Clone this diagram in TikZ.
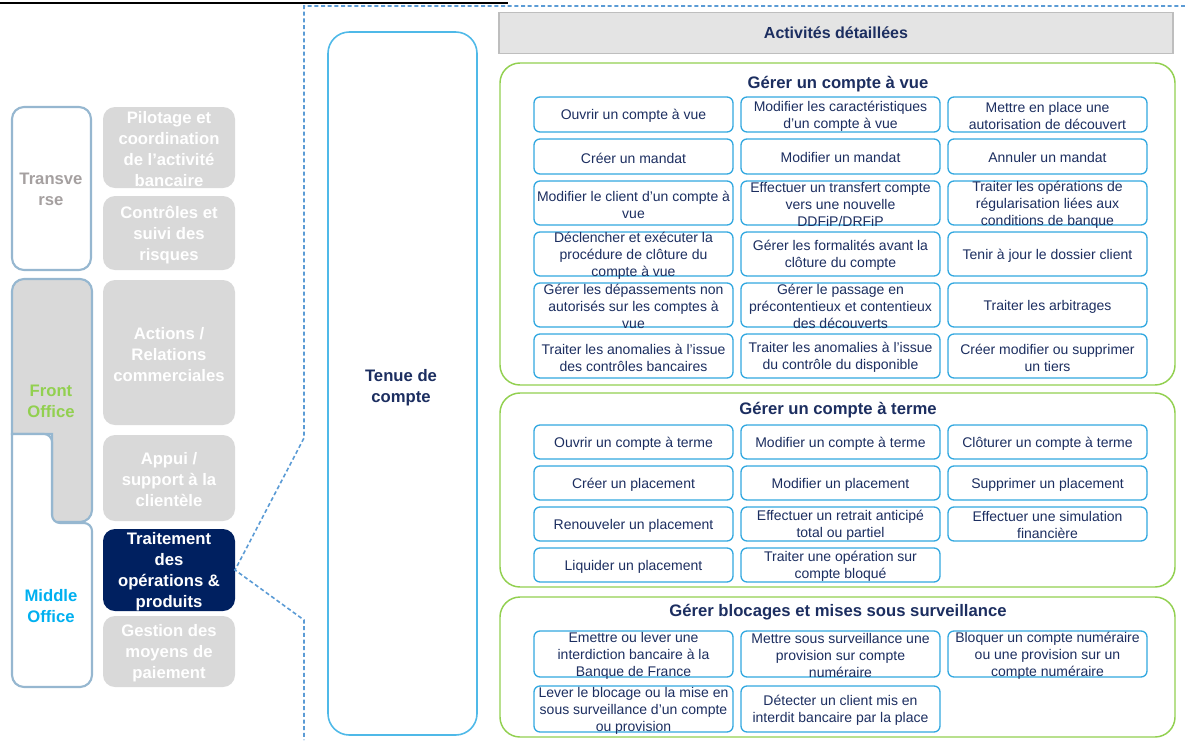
\documentclass[tikz,border=0pt]{standalone}
\usepackage{fontspec}
\setmainfont{Liberation Sans}
\usepackage{xcolor}
\usepackage{tikz}
\usetikzlibrary{positioning}
\definecolor{navy}{RGB}{28,46,96}
\definecolor{darknavy}{RGB}{0,32,96}
\definecolor{boxgray}{RGB}{217,217,217}
\definecolor{lobeblue}{RGB}{150,183,208}
\definecolor{tenueblue}{RGB}{79,185,232}
\definecolor{actblue}{RGB}{50,168,224}
\definecolor{grpgreen}{RGB}{146,208,80}
\definecolor{dashblue}{RGB}{91,155,213}
\definecolor{headgray}{RGB}{228,228,228}
\definecolor{headline}{RGB}{190,190,190}
\definecolor{midcyan}{RGB}{0,176,240}
\definecolor{transgray}{RGB}{165,160,160}
\newcommand{\cel}[1]{\smash{\makebox[0pt]{\raisebox{\dimexpr-0.25em-1.2pt\relax}{\parbox[c]{170pt}{\centering #1}}}}}

\begin{document}
\begin{tikzpicture}[x=0.75pt,y=-0.75pt,
    act/.style={draw=actblue,line width=1pt,rounded corners=4.5pt,fill=white,
                minimum width=149.25pt,inner sep=0pt,outer sep=0pt,text=navy,
                font=\fontsize{10.5}{12.75}\selectfont},
    blk/.style={fill=boxgray,rounded corners=9pt,minimum width=99pt,
                inner sep=0pt,outer sep=0pt,text=white,
                font=\fontsize{12.5}{15.75}\selectfont\bfseries},
    lobe/.style={draw=lobeblue,line width=1.6pt},
    grp/.style={draw=grpgreen,line width=1.1pt,rounded corners=15pt},
    gtitle/.style={text=navy,font=\fontsize{12.5}{15}\selectfont\bfseries},
    lbl/.style={align=center,font=\fontsize{12.5}{15.75}\selectfont\bfseries},
    cut/.style={draw=dashblue,line width=1.2pt,dash pattern=on 3pt off 2pt}]
\useasboundingbox (0,0) rectangle (1185,740);
\draw[line width=1.2pt] (0,3) -- (508,3);

\draw[lobe,rounded corners=9pt,fill=white] (12,107) rectangle (91,270);
\draw[lobe,fill=boxgray] (52,434) -- (12,434) [rounded corners=9pt] -- (12,279)
      -- (92,279) -- (92,522) [sharp corners] -- (52,522) -- cycle;
\draw[lobe,fill=white] (12,434) [rounded corners=6pt] -- (52,434) -- (52,523)
      -- (92,523) [rounded corners=9pt] -- (92,687) -- (12,687) [sharp corners] -- cycle;
\node[lbl,text=transgray] (trans) at (51,189.5) {Transve\\rse};
\node[lbl,text=grpgreen] (front) at (51,401.5) {Front\\Office};
\node[lbl,text=midcyan] (middle) at (51,606.5) {Middle\\Office};

\node[blk,minimum height=60.75pt] (pilot) at (169,147.5)
     {\cel{Pilotage et\\coordination\\de l'activité\\bancaire}};
\node[blk,minimum height=55.5pt,below=6pt of pilot] (contr)
     {\cel{Contrôles et\\suivi des\\risques}};
\node[blk,minimum height=108.75pt,below=7.5pt of contr] (actions)
     {\cel{Actions /\\Relations\\commerciales}};
\node[blk,minimum height=64.5pt,below=7.5pt of actions] (appui)
     {\cel{Appui /\\support à la\\clientèle}};
\node[blk,fill=darknavy,minimum height=61.5pt,below=6pt of appui] (trait)
     {\cel{Traitement\\des\\opérations \&\\produits}};
\node[blk,minimum height=53.25pt,below=3.75pt of trait] (gest)
     {\cel{Gestion des\\moyens de\\paiement}};

\coordinate (d0) at (1185,6);
\coordinate (d1) at (304,6);
\coordinate (d2) at (304,438);
\coordinate (d3) at (304,620);
\coordinate (d4) at (304,740);
\draw[cut] (d0) -- (d1) -- (d2) -- (trait.east) -- (d3) -- (d4);

\draw[draw=tenueblue,line width=1.2pt,rounded corners=16pt] (328,32) rectangle (477,735);
\node[lbl,text=navy] (tenue) at (401,388) {Tenue de\\compte};

\node[fill=headgray,draw=headline,line width=1pt,minimum width=505.5pt,
      minimum height=30.75pt,text=navy,font=\fontsize{12}{14}\selectfont\bfseries]
      (actdet) at (836,33) {Activités détaillées};

\draw[grp] (500,63) rectangle (1175,385);
\node[gtitle] (tvue) at (838,84.5) {Gérer un compte à vue};
\node[act,minimum height=26.25pt] (v11) at (633.5,114.5) {\cel{Ouvrir un compte à vue}};
\node[act,minimum height=26.25pt,right=6pt of v11] (v12) {\cel{Modifier les caractéristiques\\d'un compte à vue}};
\node[act,minimum height=26.25pt,right=6pt of v12] (v13) {\cel{Mettre en place une\\autorisation de découvert}};
\node[act,minimum height=26.25pt,below=5.25pt of v11] (v21) {\cel{Créer un mandat}};
\node[act,minimum height=26.25pt,right=6pt of v21] (v22) {\cel{Modifier un mandat}};
\node[act,minimum height=26.25pt,right=6pt of v22] (v23) {\cel{Annuler un mandat}};
\node[act,minimum height=33pt,below=5.25pt of v21] (v31) {\cel{Modifier le client d'un compte à\\vue}};
\node[act,minimum height=33pt,right=6pt of v31] (v32) {\cel{Effectuer un transfert compte\\vers une nouvelle\\DDFiP/DRFiP}};
\node[act,minimum height=33pt,right=6pt of v32] (v33) {\cel{Traiter les opérations de\\régularisation liées aux\\conditions de banque}};
\node[act,minimum height=33pt,below=5.25pt of v31] (v41) {\cel{Déclencher et exécuter la\\procédure de clôture du\\compte à vue}};
\node[act,minimum height=33pt,right=6pt of v41] (v42) {\cel{Gérer les formalités avant la\\clôture du compte}};
\node[act,minimum height=33pt,right=6pt of v42] (v43) {\cel{Tenir à jour le dossier client}};
\node[act,minimum height=33pt,below=5.25pt of v41] (v51) {\cel{Gérer les dépassements non\\autorisés sur les comptes à\\vue}};
\node[act,minimum height=33pt,right=6pt of v51] (v52) {\cel{Gérer le passage en\\précontentieux et contentieux\\des découverts}};
\node[act,minimum height=33pt,right=6pt of v52] (v53) {\cel{Traiter les arbitrages}};
\node[act,minimum height=33pt,below=5.25pt of v51] (v61) {\cel{Traiter les anomalies à l'issue\\des contrôles bancaires}};
\node[act,minimum height=33pt,right=6pt of v61] (v62) {\cel{Traiter les anomalies à l'issue\\du contrôle du disponible}};
\node[act,minimum height=33pt,right=6pt of v62] (v63) {\cel{Créer modifier ou supprimer\\un tiers}};

\draw[grp] (500,393) rectangle (1175,587);
\node[gtitle] (tterme) at (838,410.5) {Gérer un compte à terme};
\node[act,minimum height=25.5pt] (t11) at (633.5,442) {\cel{Ouvrir un compte à terme}};
\node[act,minimum height=25.5pt,right=6pt of t11] (t12) {\cel{Modifier un compte à terme}};
\node[act,minimum height=25.5pt,right=6pt of t12] (t13) {\cel{Clôturer un compte à terme}};
\node[act,minimum height=25.5pt,below=5.25pt of t11] (t21) {\cel{Créer un placement}};
\node[act,minimum height=25.5pt,right=6pt of t21] (t22) {\cel{Modifier un placement}};
\node[act,minimum height=25.5pt,right=6pt of t22] (t23) {\cel{Supprimer un placement}};
\node[act,minimum height=25.5pt,below=5.25pt of t21] (t31) {\cel{Renouveler un placement}};
\node[act,minimum height=25.5pt,right=6pt of t31] (t32) {\cel{Effectuer un retrait anticipé\\total ou partiel}};
\node[act,minimum height=25.5pt,right=6pt of t32] (t33) {\cel{Effectuer une simulation\\financière}};
\node[act,minimum height=25.5pt,below=5.25pt of t31] (t41) {\cel{Liquider un placement}};
\node[act,minimum height=25.5pt,right=6pt of t41] (t42) {\cel{Traiter une opération sur\\compte bloqué}};

\draw[grp] (500,597) rectangle (1175,737);
\node[gtitle] (tbloc) at (838,612.5) {Gérer blocages et mises sous surveillance};
\node[act,minimum height=34.5pt] (b11) at (633.5,654) {\cel{Emettre ou lever une\\interdiction bancaire à la\\Banque de France}};
\node[act,minimum height=34.5pt,right=6pt of b11] (b12) {\cel{Mettre sous surveillance une\\provision sur compte\\numéraire}};
\node[act,minimum height=34.5pt,right=6pt of b12] (b13) {\cel{Bloquer un compte numéraire\\ou une provision sur un\\compte numéraire}};
\node[act,minimum height=34.5pt,below=6.75pt of b11] (b21) {\cel{Lever le blocage ou la mise en\\sous surveillance d'un compte\\ou provision}};
\node[act,minimum height=34.5pt,right=6pt of b21] (b22) {\cel{Détecter un client mis en\\interdit bancaire par la place}};
\end{tikzpicture}
\end{document}
